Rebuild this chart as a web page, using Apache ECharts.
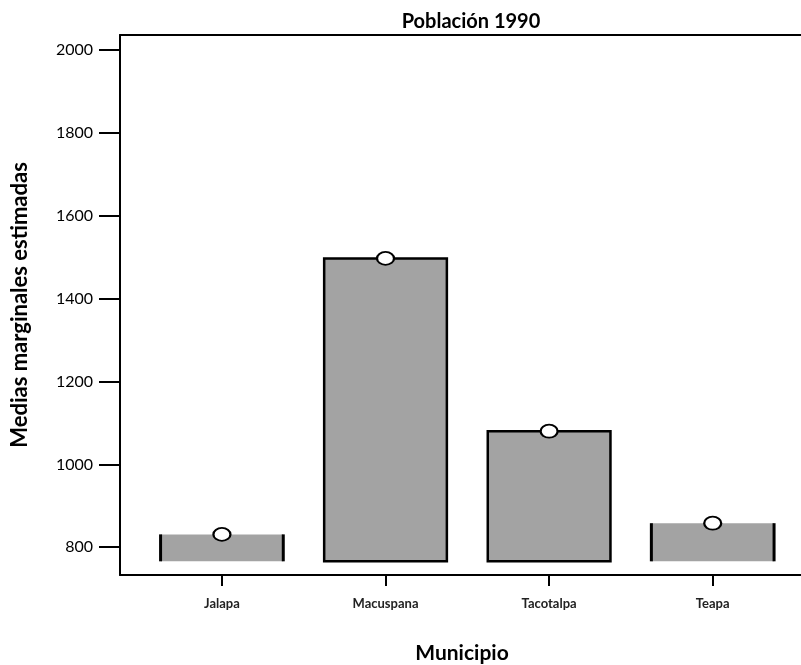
<!DOCTYPE html>
<html>
<head>
<meta charset="utf-8">
<script src="https://cdn.jsdelivr.net/npm/echarts@6/dist/echarts.min.js"></script>
<style>
  html, body { margin: 0; padding: 0; background: #fff; overflow: hidden; }
  #myChart { width: 801px; height: 665px; }
</style>
</head>
<body>
<div id="myChart"></div>
<script>
// municipios y medias marginales estimadas
const municipios = ['Jalapa', 'Macuspana', 'Tacotalpa', 'Teapa']
const medias = [831, 1497, 1080, 858]
const baseBarra = 766
const yTicks = [800, 1000, 1200, 1400, 1600, 1800, 2000]
const xTicks = [1, 2, 3, 4]

// posición de cada municipio en el eje x (1..4)
const puntos = municipios.map(function (m, i) {
  return [xTicks[i], medias[i]]
})

const fuente = 'Lato'
const chart = echarts.init(document.getElementById('myChart'))

chart.setOption({
  animation: false,
  textStyle: { fontFamily: fuente },
  title: {
    text: 'Población 1990',
    left: 466,
    top: 7,
    textAlign: 'center',
    textStyle: { fontSize: 20, fontWeight: 700, color: '#000', fontFamily: fuente }
  },
  // el borde derecho queda fuera del lienzo (el original no tiene línea a la derecha)
  grid: { left: 120, right: -3, top: 35, bottom: 90, outerBoundsMode: 'none', containLabel: false },
  xAxis: [
    {
      type: 'value',
      min: 0.377,
      max: 4.558,
      name: 'Municipio',
      nameLocation: 'middle',
      nameGap: 68,
      nameTextStyle: { fontSize: 21, fontWeight: 700, color: '#000', fontFamily: fuente },
      splitLine: { show: false },
      axisLine: { show: true, lineStyle: { color: '#000', width: 2 } },
      axisTick: { show: true, customValues: xTicks, length: 11, lineStyle: { color: '#000', width: 2 } },
      axisLabel: {
        customValues: xTicks,
        margin: 22,
        fontSize: 13,
        fontWeight: 700,
        color: '#222',
        fontFamily: fuente,
        formatter: function (v) { return municipios[Math.round(v) - 1] }
      }
    },
    {
      type: 'value',
      position: 'top',
      min: 0.377,
      max: 4.558,
      splitLine: { show: false },
      axisLine: { show: true, lineStyle: { color: '#000', width: 2 } },
      axisTick: { show: false },
      axisLabel: { show: false }
    }
  ],
  yAxis: {
    type: 'value',
    min: 733,
    max: 2036,
    name: 'Medias marginales estimadas',
    nameLocation: 'middle',
    nameGap: 89,
    nameTextStyle: { fontSize: 22, fontWeight: 700, color: '#000', fontFamily: fuente },
    splitLine: { show: false },
    axisLine: { show: true, lineStyle: { color: '#000', width: 2 } },
    axisTick: { show: true, customValues: yTicks, length: 21, lineStyle: { color: '#000', width: 2 } },
    axisLabel: {
      customValues: yTicks,
      margin: 27,
      fontSize: 16,
      color: '#000',
      fontFamily: fuente,
      formatter: function (v) { return String(v) }
    }
  },
  series: [
    {
      type: 'custom',
      data: puntos,
      renderItem: function (params, api) {
        const i = api.value(0)
        const v = api.value(1)
        const p0 = api.coord([i - 0.375, v])
        const p1 = api.coord([i + 0.375, baseBarra])
        const x = p0[0], y = p0[1], w = p1[0] - p0[0], h = p1[1] - p0[1]
        if (h > 40) {
          return {
            type: 'rect',
            shape: { x: x, y: y, width: w, height: h },
            style: { fill: '#a3a3a3', stroke: '#000', lineWidth: 2.5 }
          }
        }
        // barras cortas: solo bordes laterales
        return {
          type: 'group',
          children: [
            { type: 'rect', shape: { x: x, y: y, width: w, height: h }, style: { fill: '#a3a3a3' } },
            { type: 'line', shape: { x1: x, y1: y, x2: x, y2: y + h }, style: { stroke: '#000', lineWidth: 3 } },
            { type: 'line', shape: { x1: x + w, y1: y, x2: x + w, y2: y + h }, style: { stroke: '#000', lineWidth: 3 } }
          ]
        }
      }
    },
    {
      type: 'scatter',
      data: puntos,
      symbol: 'circle',
      symbolSize: [17, 13],
      z: 5,
      itemStyle: { color: '#fff', borderColor: '#000', borderWidth: 2, opacity: 1 }
    }
  ]
})
</script>
</body>
</html>
